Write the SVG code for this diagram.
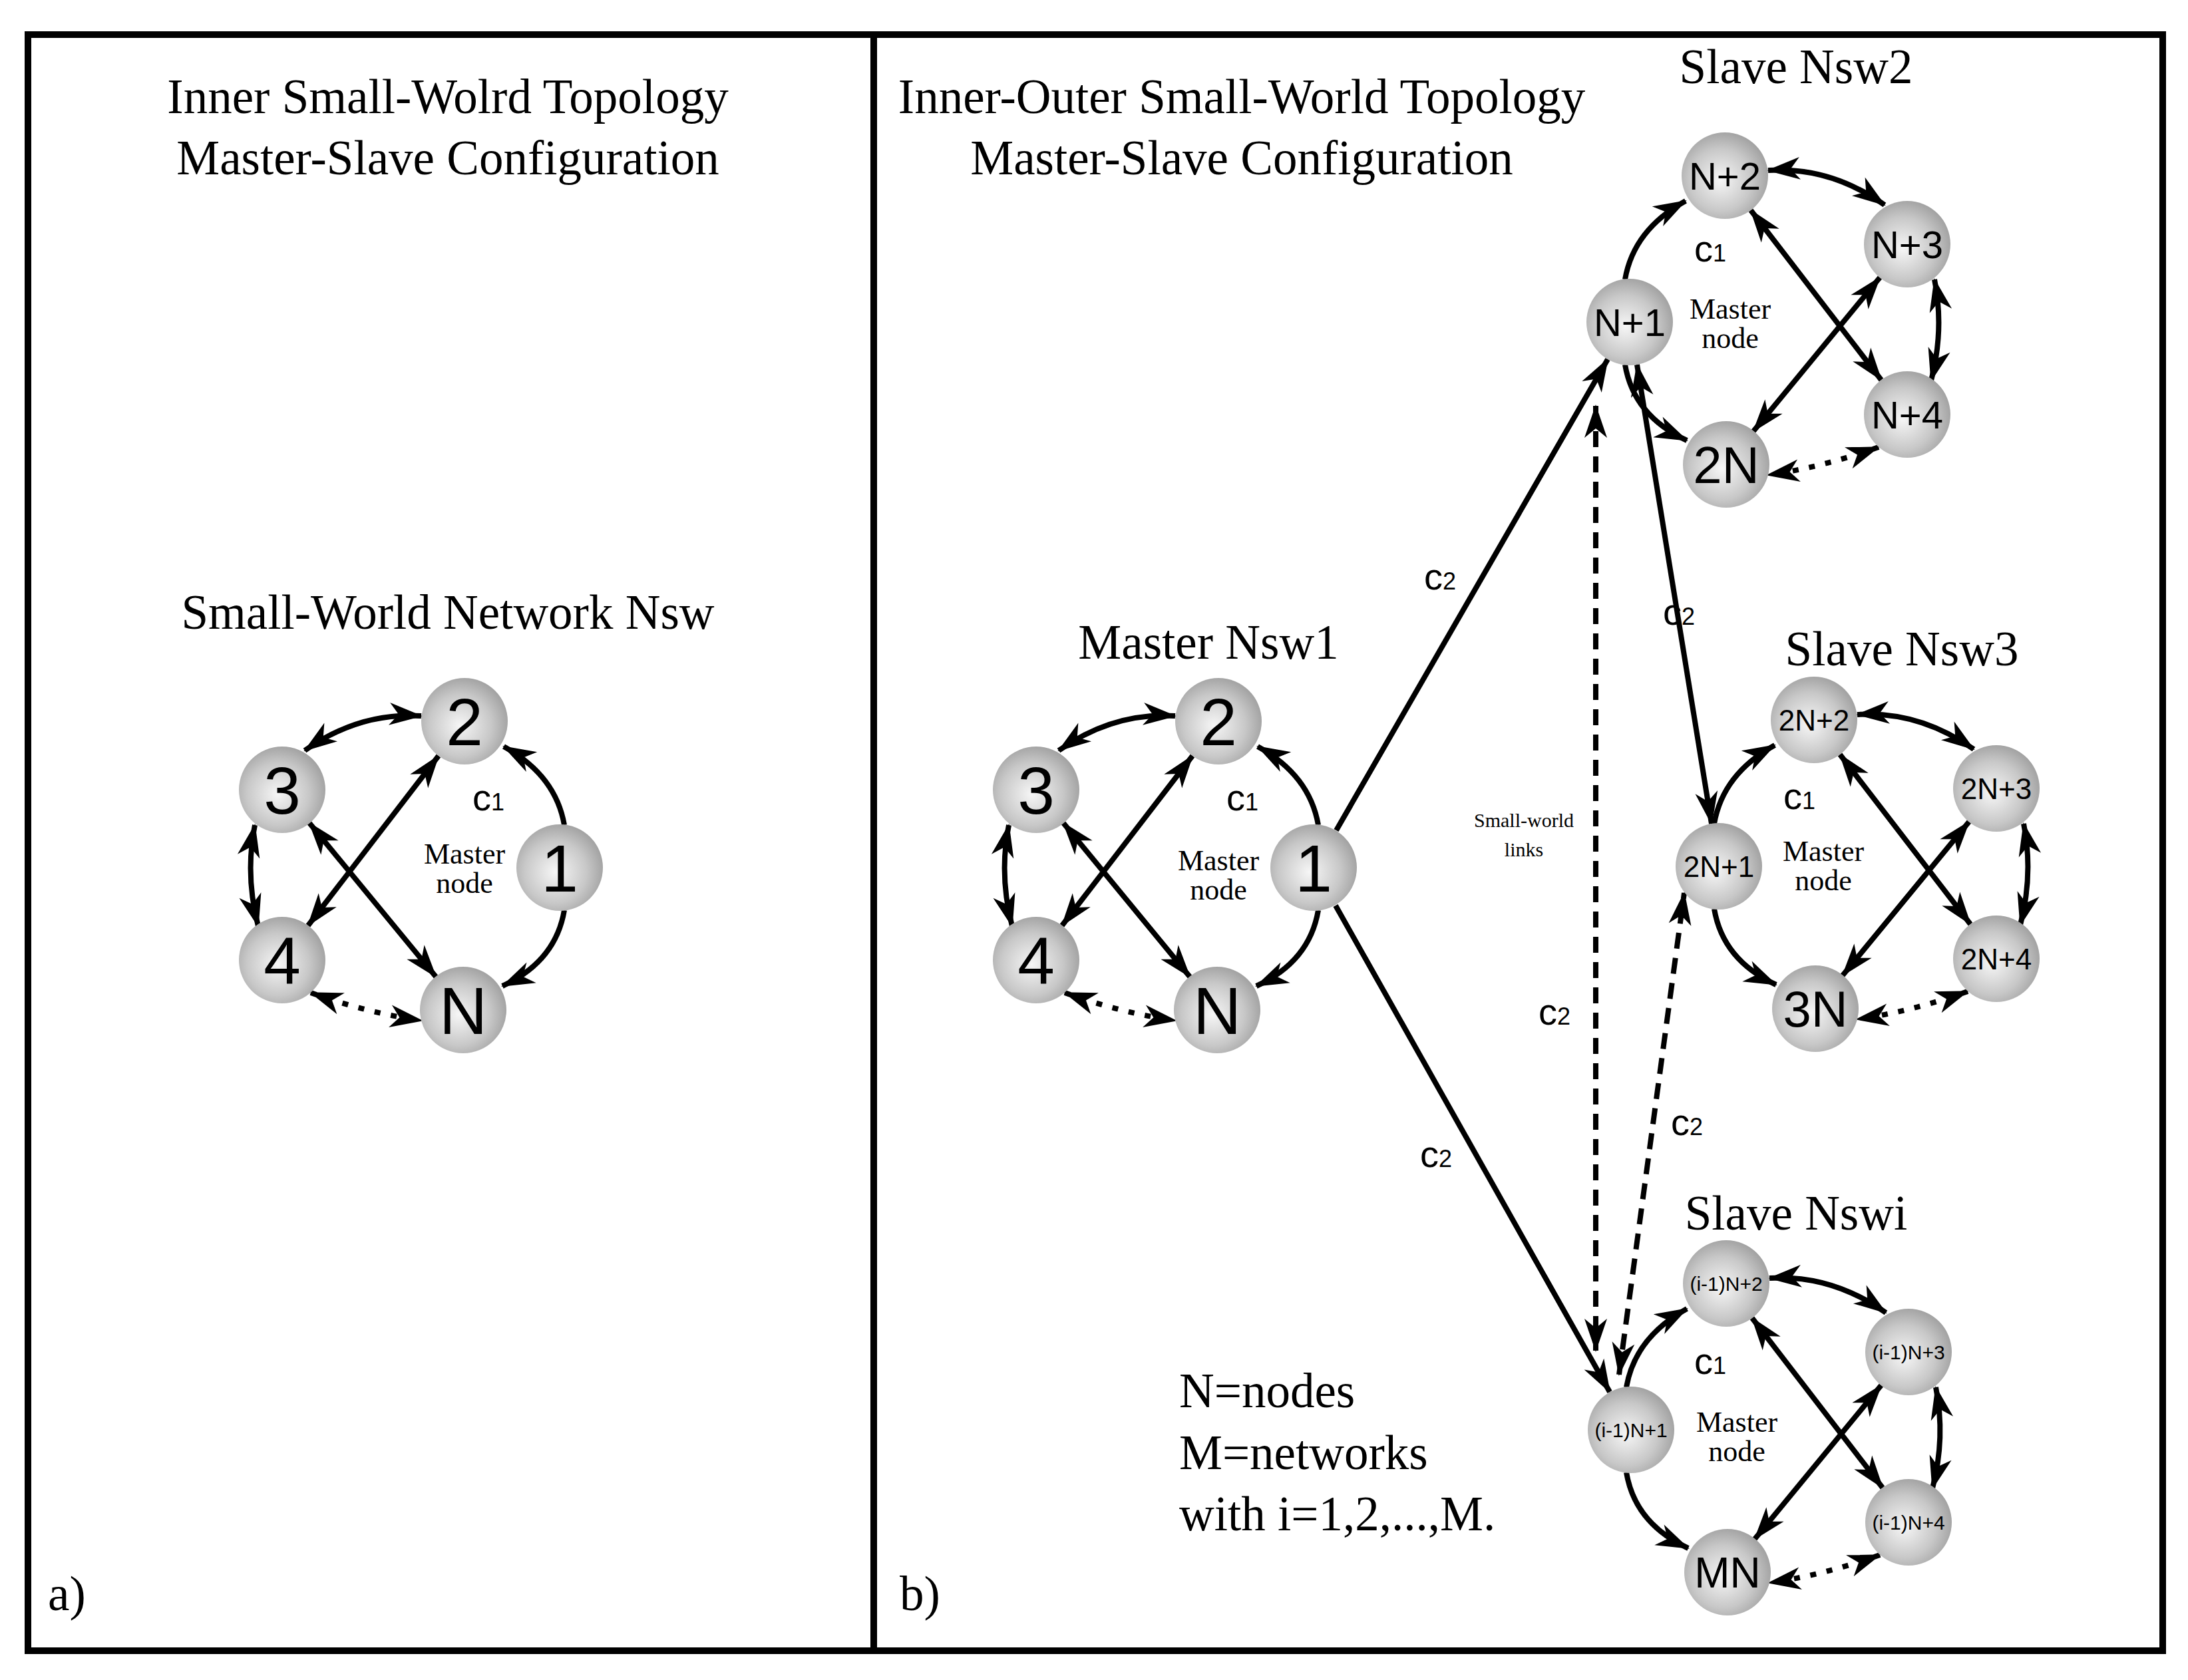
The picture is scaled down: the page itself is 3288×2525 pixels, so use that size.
<svg xmlns="http://www.w3.org/2000/svg" xmlns:xlink="http://www.w3.org/1999/xlink" width="3288" height="2525" viewBox="0 0 3288 2525">
<style>
.frame{fill:none;stroke:#000;stroke-width:10}
.e{fill:none;stroke:#000;stroke-width:8;marker-end:url(#ah)}
.d{marker-start:url(#ah)}
.dot{stroke-dasharray:9 16}
.dash{stroke-dasharray:24 14}
.t{font-family:"Liberation Serif",serif;font-size:73px;fill:#000;text-anchor:middle}
.s{font-family:"Liberation Serif",serif;font-size:44px;fill:#000;text-anchor:middle}
.n{font-family:"Liberation Sans",Arial,sans-serif;fill:#000;text-anchor:middle}
.c{font-family:"Liberation Sans",Arial,sans-serif;font-size:56px;fill:#000}
.node{fill:url(#g)}
</style>
<defs>
<radialGradient id="g" cx="0.45" cy="0.55" r="0.6">
<stop offset="0" stop-color="#f6f6f6"/><stop offset="0.6" stop-color="#c8c8c8"/><stop offset="1" stop-color="#9c9c9c"/>
</radialGradient>
<marker id="ah" viewBox="-50 -20 55 40" markerWidth="55" markerHeight="40" refX="0" refY="0" orient="auto-start-reverse" markerUnits="userSpaceOnUse">
<path d="M2,0 L-48,-17 L-34,0 L-48,17 z" fill="#000"/>
</marker>
<g id="net">
<path class="e" d="M848,1240 Q835,1165 757,1122"/>
<path class="e" d="M848,1368 Q835,1445 755,1482"/>
<path class="e d" d="M633,1076 Q540,1070 458,1128"/>
<path class="e d" d="M383,1240 Q368,1315 388,1392"/>
<path class="e d dot" d="M467,1492 Q550,1522 634,1534"/>
<path class="e d" d="M659,1136 L463,1391"/>
<path class="e d" d="M465,1237 L655,1468"/>
</g>
</defs>
<rect width="3288" height="2525" fill="#fff"/>
<rect class="frame" x="42" y="52" width="1271" height="2429"/>
<rect class="frame" x="1313" y="52" width="1937" height="2429"/>
<g id="connectors">
<use xlink:href="#net" href="#net"/>
<use xlink:href="#net" href="#net" transform="translate(1133,0)"/>
<use xlink:href="#net" href="#net" transform="translate(3290,-820) scale(-1,1)"/>
<use xlink:href="#net" href="#net" transform="translate(3424,-2) scale(-1,1)"/>
<use xlink:href="#net" href="#net" transform="translate(3292,845) scale(-1,1)"/>
<path class="e" d="M2008,1248 L2416,540"/>
<path class="e" d="M2007,1361 L2419,2092"/>
<path class="e d" d="M2460,548 L2572,1238"/>
<path class="e d dash" d="M2398,610 L2398,2030"/>
<path class="e d dash" d="M2433,2066 L2531,1342"/>
</g>
<g id="texts">
<text class="t" x="673" y="170">Inner Small-Wolrd Topology</text>
<text class="t" x="673" y="262">Master-Slave Configuration</text>
<text class="t" x="673" y="945">Small-World Network Nsw</text>
<text class="t" x="1866" y="170">Inner-Outer Small-World Topology</text>
<text class="t" x="1866" y="262">Master-Slave Configuration</text>
<text class="t" x="1816" y="990">Master Nsw1</text>
<text class="t" x="2699" y="125">Slave Nsw2</text>
<text class="t" x="2858" y="1000">Slave Nsw3</text>
<text class="t" x="2699" y="1848">Slave Nswi</text>
<text class="t" x="1772" y="2115" style="text-anchor:start">N=nodes</text>
<text class="t" x="1772" y="2208" style="text-anchor:start">M=networks</text>
<text class="t" x="1772" y="2300" style="text-anchor:start">with i=1,2,...,M.</text>
<text class="t" x="72" y="2420" style="text-anchor:start">a)</text>
<text class="t" x="1352" y="2420" style="text-anchor:start">b)</text>
<text class="s" x="698" y="1298">Master</text><text class="s" x="698" y="1342">node</text>
<text class="s" x="1831" y="1308">Master</text><text class="s" x="1831" y="1352">node</text>
<text class="s" x="2600" y="479">Master</text><text class="s" x="2600" y="523">node</text>
<text class="s" x="2740" y="1294">Master</text><text class="s" x="2740" y="1338">node</text>
<text class="s" x="2610" y="2152">Master</text><text class="s" x="2610" y="2196">node</text>
<text class="s" x="2290" y="1243" style="font-size:30px">Small-world</text>
<text class="s" x="2290" y="1287" style="font-size:30px">links</text>
<text class="c" x="710" y="1218">c<tspan font-size="36">1</tspan></text>
<text class="c" x="1843" y="1218">c<tspan font-size="36">1</tspan></text>
<text class="c" x="2546" y="393">c<tspan font-size="36">1</tspan></text>
<text class="c" x="2680" y="1216">c<tspan font-size="36">1</tspan></text>
<text class="c" x="2546" y="2065">c<tspan font-size="36">1</tspan></text>
<text class="c" x="2140" y="886">c<tspan font-size="36">2</tspan></text>
<text class="c" x="2499" y="939">c<tspan font-size="36">2</tspan></text>
<text class="c" x="2312" y="1540">c<tspan font-size="36">2</tspan></text>
<text class="c" x="2511" y="1706">c<tspan font-size="36">2</tspan></text>
<text class="c" x="2134" y="1754">c<tspan font-size="36">2</tspan></text>
</g>
<g id="n-a1"><circle class="node" cx="841" cy="1304" r="65"/><text class="n" x="841" y="1340" font-size="100">1</text></g>
<g id="n-a2"><circle class="node" cx="698" cy="1084" r="65"/><text class="n" x="698" y="1120" font-size="100">2</text></g>
<g id="n-a3"><circle class="node" cx="424" cy="1187" r="65"/><text class="n" x="424" y="1223" font-size="100">3</text></g>
<g id="n-a4"><circle class="node" cx="424" cy="1443" r="65"/><text class="n" x="424" y="1479" font-size="100">4</text></g>
<g id="n-aN"><circle class="node" cx="696" cy="1518" r="65"/><text class="n" x="696" y="1554" font-size="100">N</text></g>
<g id="n-b1"><circle class="node" cx="1974" cy="1304" r="65"/><text class="n" x="1974" y="1340" font-size="100">1</text></g>
<g id="n-b2"><circle class="node" cx="1831" cy="1084" r="65"/><text class="n" x="1831" y="1120" font-size="100">2</text></g>
<g id="n-b3"><circle class="node" cx="1557" cy="1187" r="65"/><text class="n" x="1557" y="1223" font-size="100">3</text></g>
<g id="n-b4"><circle class="node" cx="1557" cy="1443" r="65"/><text class="n" x="1557" y="1479" font-size="100">4</text></g>
<g id="n-bN"><circle class="node" cx="1829" cy="1518" r="65"/><text class="n" x="1829" y="1554" font-size="100">N</text></g>
<g id="n-N1"><circle class="node" cx="2449" cy="484" r="65"/><text class="n" x="2449" y="505" font-size="58">N+1</text></g>
<g id="n-N2"><circle class="node" cx="2592" cy="264" r="65"/><text class="n" x="2592" y="285" font-size="58">N+2</text></g>
<g id="n-N3"><circle class="node" cx="2866" cy="367" r="65"/><text class="n" x="2866" y="388" font-size="58">N+3</text></g>
<g id="n-N4"><circle class="node" cx="2866" cy="623" r="65"/><text class="n" x="2866" y="644" font-size="58">N+4</text></g>
<g id="n-2N"><circle class="node" cx="2594" cy="698" r="65"/><text class="n" x="2594" y="726" font-size="78">2N</text></g>
<g id="n-2N1"><circle class="node" cx="2583" cy="1302" r="65"/><text class="n" x="2583" y="1318" font-size="44">2N+1</text></g>
<g id="n-2N2"><circle class="node" cx="2726" cy="1082" r="65"/><text class="n" x="2726" y="1098" font-size="44">2N+2</text></g>
<g id="n-2N3"><circle class="node" cx="3000" cy="1185" r="65"/><text class="n" x="3000" y="1201" font-size="44">2N+3</text></g>
<g id="n-2N4"><circle class="node" cx="3000" cy="1441" r="65"/><text class="n" x="3000" y="1457" font-size="44">2N+4</text></g>
<g id="n-3N"><circle class="node" cx="2728" cy="1516" r="65"/><text class="n" x="2728" y="1543" font-size="76">3N</text></g>
<g id="n-i1"><circle class="node" cx="2451" cy="2149" r="65"/><text class="n" x="2451" y="2160" font-size="30">(i-1)N+1</text></g>
<g id="n-i2"><circle class="node" cx="2594" cy="1929" r="65"/><text class="n" x="2594" y="1940" font-size="30">(i-1)N+2</text></g>
<g id="n-i3"><circle class="node" cx="2868" cy="2032" r="65"/><text class="n" x="2868" y="2043" font-size="30">(i-1)N+3</text></g>
<g id="n-i4"><circle class="node" cx="2868" cy="2288" r="65"/><text class="n" x="2868" y="2299" font-size="30">(i-1)N+4</text></g>
<g id="n-MN"><circle class="node" cx="2596" cy="2363" r="65"/><text class="n" x="2596" y="2386" font-size="64">MN</text></g>
</svg>
